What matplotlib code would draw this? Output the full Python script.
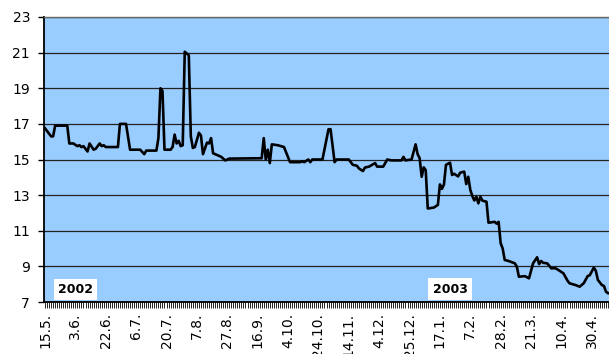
import numpy as np
import matplotlib
matplotlib.use('Agg')
import matplotlib.pyplot as plt

plt.rcParams['font.family'] = ['DejaVu Sans']

# trading day index (category position) and closing value
day_idx = [0, 3, 4, 5, 11, 12, 14, 16, 17, 18, 19, 21, 22, 24, 25, 27, 28, 29, 30,
           36, 37, 40, 42, 47, 49, 50, 55, 56, 57, 58, 59, 62, 63, 64, 65, 66, 67, 68,
           69, 71, 72, 73, 74, 76, 77, 78, 80, 81, 82, 83, 85, 87, 89, 91,
           107, 108, 109, 110, 111, 112, 115, 118, 121, 126, 127, 128, 130, 131, 132,
           137, 140, 141, 143, 144, 150, 152, 154, 155, 157, 158, 160, 163, 164, 167,
           169, 171, 176, 177, 178, 181, 183, 184, 185, 186, 187, 188, 189, 192, 194,
           195, 196, 197, 198, 200, 201, 202, 204, 205, 207, 208, 209, 210, 211, 212,
           213, 214, 215, 216, 218, 219, 222, 223, 224, 225, 226, 227, 229, 232, 233,
           234, 237, 239, 240, 241, 243, 244, 245, 246, 248, 250, 252, 254, 256, 258,
           259, 262, 264, 266, 268, 269, 271, 272, 273, 275, 276, 277, 278]
price = [16.75, 16.3, 16.3, 16.9, 16.9, 15.9, 15.9, 15.75, 15.8, 15.7, 15.75, 15.45, 15.9, 15.55, 15.6, 15.9, 15.75, 15.8, 15.7,
         15.7, 17.0, 17.0, 15.55, 15.55, 15.3, 15.5, 15.5, 16.2, 19.0, 18.85, 15.55, 15.55, 15.7, 16.4, 15.9, 16.05, 15.75, 15.8,
         21.05, 20.85, 16.3, 15.65, 15.7, 16.5, 16.35, 15.3, 15.95, 15.9, 16.2, 15.35, 15.25, 15.15, 14.95, 15.05,
         15.07, 16.2, 15.0, 15.55, 14.8, 15.85, 15.8, 15.7, 14.85, 14.85, 14.9, 14.85, 15.0, 14.85, 15.0,
         15.0, 16.7, 16.7, 14.85, 15.0, 15.0, 14.7, 14.65, 14.5, 14.35, 14.55, 14.6, 14.8, 14.6, 14.6,
         15.0, 14.95, 14.95, 15.15, 14.95, 15.0, 15.85, 15.3, 15.07, 14.03, 14.56, 14.4, 12.25, 12.3, 12.45,
         13.6, 13.35, 13.6, 14.7, 14.82, 14.13, 14.2, 14.05, 14.26, 14.32, 13.62, 14.03, 13.3, 12.95, 12.7,
         12.91, 12.54, 12.91, 12.69, 12.63, 11.45, 11.5, 11.4, 11.5, 10.3, 10.0, 9.36, 9.3, 9.17, 8.98,
         8.42, 8.45, 8.33, 8.76, 9.17, 9.51, 9.13, 9.3, 9.2, 9.17, 8.89, 8.9, 8.76, 8.61, 8.2,
         8.05, 7.95, 7.86, 8.05, 8.46, 8.5, 8.93, 8.75, 8.24, 7.95, 7.9, 7.58, 7.5]

date_labels = ['15.5.', '3.6.', '22.6.', '6.7.', '20.7.', '7.8.', '27.8.', '16.9.', '4.10.',
               '24.10.', '14.11.', '4.12.', '25.12.', '17.1.', '7.2.', '28.2.', '21.3.',
               '10.4.', '30.4.']
label_step = 15
y_ticks = [7, 9, 11, 13, 15, 17, 19, 21, 23]


def draw():
    fig = plt.figure(figsize=(6.09, 3.54), dpi=100)
    ax = fig.add_axes([44 / 609, 1 - 302 / 354, 1 - 44 / 609, (302 - 17) / 354])
    ax.set_facecolor('#99CCFF')

    ax.set_xlim(-0.5, 278.5)
    ax.set_ylim(7, 23)
    ax.set_yticks(y_ticks)
    ax.grid(axis='y', color='#222222', linewidth=0.9)
    ax.set_axisbelow(True)

    ax.plot(day_idx, price, color='black', linewidth=1.9, solid_joinstyle='round')

    ax.set_xticks(np.arange(len(date_labels)) * label_step)
    ax.set_xticklabels(date_labels, rotation=90, ha='center', va='top')
    ax.set_xticks(np.arange(0, 279), minor=True)
    ax.tick_params(axis='x', which='both', length=4, width=0.6, direction='out', labelsize=10, pad=4)
    ax.tick_params(axis='y', length=4, width=1, direction='out', labelsize=10, pad=6)

    for side in ['left', 'bottom']:
        ax.spines[side].set_color('black')
        ax.spines[side].set_linewidth(1.3)
    ax.spines['top'].set_color('#666666')
    ax.spines['top'].set_linewidth(1.0)
    ax.spines['right'].set_visible(False)

    box = dict(boxstyle='square,pad=0.35', facecolor='white', edgecolor='none')
    ax.text(15, 7.7, '2002', fontsize=9, fontweight='bold', ha='center', va='center', bbox=box)
    ax.text(200, 7.72, '2003', fontsize=9, fontweight='bold', ha='center', va='center', bbox=box)

    fig.savefig('out.png', dpi=100)


if __name__ == "__main__":
    draw()
